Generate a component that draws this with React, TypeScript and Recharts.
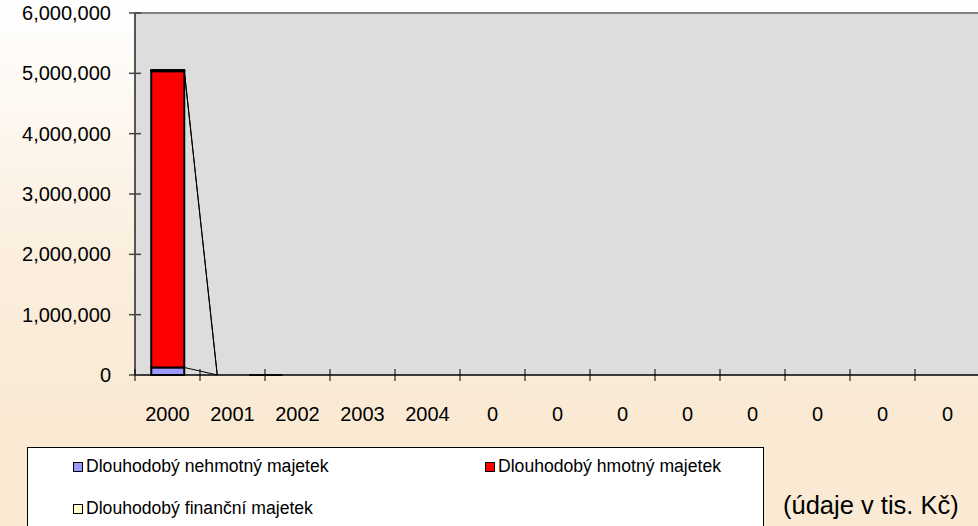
import { BarChart, Bar, XAxis, YAxis, CartesianGrid, ReferenceLine } from 'recharts'

const years = ['2000', '2001', '2002', '2003', '2004', '0', '0', '0', '0', '0', '0', '0', '0']
const nehmotny = [125000, 0, 0, null, null, null, null, null, null, null, null, null, null]
const hmotny = [4910000, 0, 0, null, null, null, null, null, null, null, null, null, null]
const financni = [20000, 0, 0, null, null, null, null, null, null, null, null, null, null]
const yTicks = [0, 1000000, 2000000, 3000000, 4000000, 5000000, 6000000]

const seriesNames = ['Dlouhodobý nehmotný majetek', 'Dlouhodobý hmotný majetek', 'Dlouhodobý finanční majetek']
const seriesColors = ['#9999FF', '#FF0000', '#FFFFCC']
const series = [nehmotny, hmotny, financni]

const data = years.map((year, i) => ({
  year,
  nehmotny: nehmotny[i],
  hmotny: hmotny[i],
  financni: financni[i],
}))

const FONT = '"Liberation Sans", Arial, sans-serif'

const cumAt = (k: number, i: number) => {
  let s = 0
  for (let j = 0; j <= k; j++) s += series[j][i] ?? 0
  return s
}

// stacked segment + Excel style series line to the next bar
const makeShape = (k: number) => (props: any) => {
  const { x, y, width, height, index } = props
  const val = series[k][index]
  if (val == null) return <g />
  const next = series[k][index + 1]
  let line = null
  if (next !== undefined && next !== null) {
    const nextCum = cumAt(k, index + 1)
    const cum = cumAt(k, index)
    let y2 = y
    if (val > 0) {
      const ratio = height / val
      y2 = y + cum * ratio - nextCum * ratio
    }
    line = <line x1={x + width} y1={y} x2={x + 2 * width} y2={y2} stroke="#000" strokeWidth={1} />
  }
  return (
    <g>
      {height > 0 && (
        <rect x={x} y={y} width={width} height={height} fill={seriesColors[k]} stroke="#000" strokeWidth={2} />
      )}
      {line}
    </g>
  )
}

const YTick = (props: any) => {
  const { x, y, payload } = props
  return (
    <g>
      <line x1={x - 6} y1={y} x2={x + 6} y2={y} stroke="#444" strokeWidth={1.5} />
      <text x={x - 24} y={y} dy={7} textAnchor="end" fontSize={20} fontFamily={FONT} fill="#000">
        {payload.value.toLocaleString('en-US')}
      </text>
    </g>
  )
}

const XTick = (props: any) => {
  const { x, y, payload, width, visibleTicksCount, index } = props
  const band = width / visibleTicksCount
  return (
    <g>
      <line x1={x - band / 2} y1={y - 6} x2={x - band / 2} y2={y + 6} stroke="#000" strokeWidth={1} />
      {index === visibleTicksCount - 1 && (
        <line x1={x + band / 2} y1={y - 6} x2={x + band / 2} y2={y + 6} stroke="#000" strokeWidth={1} />
      )}
      <text x={x} y={y} dy={46} textAnchor="middle" fontSize={20} fontFamily={FONT} fill="#000">
        {payload.value}
      </text>
    </g>
  )
}

const LegendItem = ({ i, left, top }: { i: number; left: number; top: number }) => (
  <div style={{ position: 'absolute', left, top, display: 'flex', alignItems: 'center', whiteSpace: 'nowrap' }}>
    <span
      style={{
        display: 'inline-block',
        width: 8,
        height: 8,
        background: seriesColors[i],
        border: '1.5px solid #000',
        marginRight: 3,
      }}
    />
    <span>{seriesNames[i]}</span>
  </div>
)

export default function App() {
  return (
    <div
      style={{
        position: 'absolute',
        left: 0,
        top: 0,
        width: 978,
        height: 526,
        overflow: 'hidden',
        background: 'linear-gradient(to bottom, #FFFFFF 0%, #FBEEDD 50%, #FAEAD4 80%, #FAEAD4 100%)',
        fontFamily: FONT,
      }}
    >
      <BarChart
        width={980}
        height={526}
        data={data}
        margin={{ top: 13, right: 0, left: 0, bottom: 91 }}
        barCategoryGap="25%"
      >
        <CartesianGrid fill="#DDDDDD" horizontal={false} vertical={false} />
        <ReferenceLine y={6000000} stroke="#808080" strokeWidth={2} />
        <YAxis
          width={135}
          domain={[0, 6000000]}
          ticks={yTicks}
          interval={0}
          tickSize={0}
          tickMargin={0}
          tickLine={false}
          axisLine={{ stroke: '#555', strokeWidth: 2 }}
          tick={<YTick />}
        />
        <XAxis
          dataKey="year"
          height={60}
          interval={0}
          tickSize={0}
          tickMargin={0}
          tickLine={false}
          axisLine={{ stroke: '#000', strokeWidth: 1.5 }}
          tick={<XTick />}
        />
        <Bar dataKey="nehmotny" stackId="a" fill={seriesColors[0]} shape={makeShape(0)} isAnimationActive={false} />
        <Bar dataKey="hmotny" stackId="a" fill={seriesColors[1]} shape={makeShape(1)} isAnimationActive={false} />
        <Bar dataKey="financni" stackId="a" fill={seriesColors[2]} shape={makeShape(2)} isAnimationActive={false} />
      </BarChart>
      <div
        style={{
          position: 'absolute',
          left: 27,
          top: 447,
          width: 735,
          height: 100,
          background: '#FFFFFF',
          border: '1px solid #000',
          fontSize: 17.6,
          color: '#000',
        }}
      >
        <LegendItem i={0} left={45} top={8} />
        <LegendItem i={1} left={457} top={8} />
        <LegendItem i={2} left={45} top={50} />
      </div>
      <div style={{ position: 'absolute', left: 783, top: 491, fontSize: 25.5, color: '#000', whiteSpace: 'nowrap' }}>
        (údaje v tis. Kč)
      </div>
    </div>
  )
}
